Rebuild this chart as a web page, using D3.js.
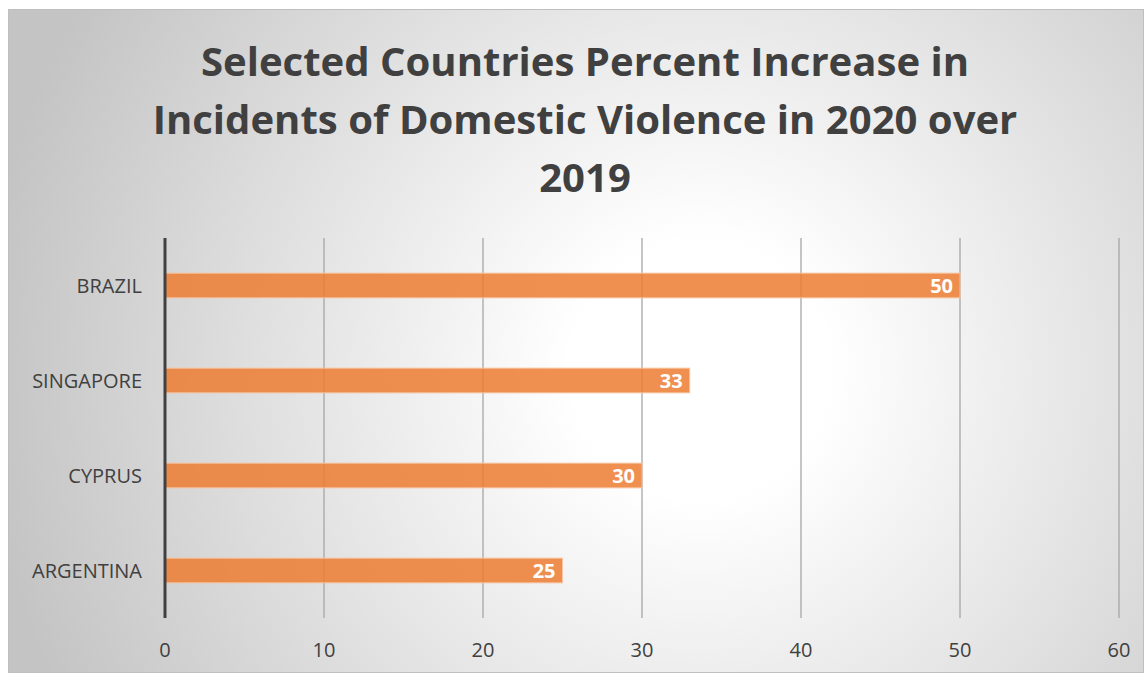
<!DOCTYPE html>
<html>
<head>
<meta charset="utf-8">
<script src="https://cdn.jsdelivr.net/npm/d3@7"></script>
<style>
  body { margin: 0; background: #fff; }
  svg { display: block; }
</style>
</head>
<body>
<svg id="chart"></svg>
<script>
const countries = ["BRAZIL", "SINGAPORE", "CYPRUS", "ARGENTINA"];
const increases = [50, 33, 30, 25];
const xTicks = [0, 10, 20, 30, 40, 50, 60];
const titleLines = [
  "Selected Countries Percent Increase in",
  "Incidents of Domestic Violence in 2020 over",
  "2019"
];

const width = 1145;
const height = 675;

const svg = d3.select("#chart")
  .attr("width", width)
  .attr("height", height);

const defs = svg.append("defs");
const bg = defs.append("radialGradient")
  .attr("id", "bgGrad")
  .attr("gradientUnits", "userSpaceOnUse")
  .attr("cx", 700)
  .attr("cy", 370)
  .attr("r", 720);
bg.append("stop").attr("offset", "0%").attr("stop-color", "#ffffff");
bg.append("stop").attr("offset", "18%").attr("stop-color", "#ffffff");
bg.append("stop").attr("offset", "100%").attr("stop-color", "#c4c4c4");

// chart area background
svg.append("rect")
  .attr("x", 8.5)
  .attr("y", 9.5)
  .attr("width", 1135)
  .attr("height", 663)
  .attr("fill", "url(#bgGrad)")
  .attr("stroke", "#bfbfbf")
  .attr("stroke-width", 1);

const margin = { top: 238, right: 26, bottom: 57, left: 165 };

const x = d3.scaleLinear()
  .domain([0, 60])
  .range([margin.left, width - margin.right]);

const y = d3.scaleBand()
  .domain(countries)
  .range([margin.top, height - margin.bottom])
  .paddingInner(0.74)
  .paddingOuter(0.37);

// gridlines
svg.append("g")
  .selectAll("line")
  .data(xTicks.slice(1))
  .enter()
  .append("line")
  .attr("x1", d => x(d))
  .attr("x2", d => x(d))
  .attr("y1", margin.top)
  .attr("y2", height - margin.bottom)
  .attr("stroke", "#a6a6a6")
  .attr("stroke-width", 1.3);

// bars
svg.append("g")
  .selectAll("rect")
  .data(countries)
  .enter()
  .append("rect")
  .attr("x", x(0))
  .attr("y", d => y(d))
  .attr("width", (d, i) => x(increases[i]) - x(0))
  .attr("height", y.bandwidth())
  .attr("fill", "#ed7d31")
  .attr("fill-opacity", 0.85)
  .attr("stroke", "#f6c4a0")
  .attr("stroke-width", 1);

// value labels
svg.append("g")
  .selectAll("text")
  .data(countries)
  .enter()
  .append("text")
  .attr("x", (d, i) => x(increases[i]) - 7)
  .attr("y", d => y(d) + y.bandwidth() / 2)
  .attr("dy", "0.36em")
  .attr("text-anchor", "end")
  .attr("fill", "#fff")
  .style("font-family", "'Open Sans', sans-serif")
  .style("font-weight", "bold")
  .style("font-size", "20px")
  .text((d, i) => increases[i]);

// axis line at zero
svg.append("line")
  .attr("x1", x(0))
  .attr("x2", x(0))
  .attr("y1", margin.top)
  .attr("y2", height - margin.bottom)
  .attr("stroke", "#404040")
  .attr("stroke-width", 3);

// category labels
svg.append("g")
  .selectAll("text")
  .data(countries)
  .enter()
  .append("text")
  .attr("x", 142)
  .attr("y", d => y(d) + y.bandwidth() / 2)
  .attr("dy", "0.36em")
  .attr("text-anchor", "end")
  .attr("fill", "#404040")
  .style("font-family", "'Open Sans', sans-serif")
  .style("font-size", "20px")
  .text(d => d);

// x tick labels
svg.append("g")
  .selectAll("text")
  .data(xTicks)
  .enter()
  .append("text")
  .attr("x", d => x(d))
  .attr("y", 650)
  .attr("dy", "0.36em")
  .attr("text-anchor", "middle")
  .attr("fill", "#404040")
  .style("font-family", "'Open Sans', sans-serif")
  .style("font-size", "20px")
  .text(d => d);

// title
const title = svg.append("g")
  .selectAll("text")
  .data(titleLines)
  .enter()
  .append("text")
  .attr("x", 585)
  .attr("y", (d, i) => 76 + i * 58)
  .attr("text-anchor", "middle")
  .attr("fill", "#404040")
  .style("font-family", "'Open Sans', sans-serif")
  .style("font-weight", "bold")
  .style("font-size", "38px")
  .text(d => d);

// scale title font so the widest line spans like the original
const widest = d3.max(title.nodes(), n => n.getComputedTextLength());
const fitted = 38 * 865 / widest;
title.style("font-size", fitted + "px");
</script>
</body>
</html>
